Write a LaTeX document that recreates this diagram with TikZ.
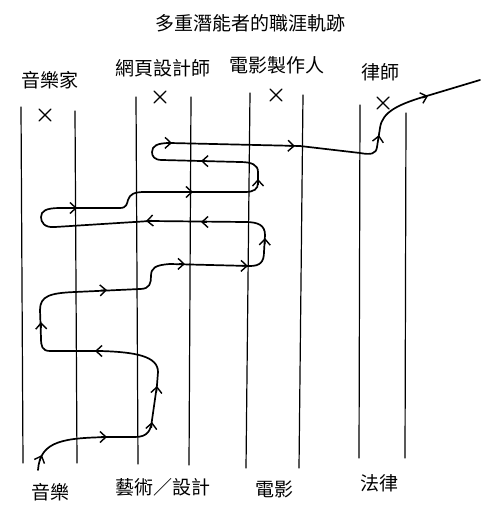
\documentclass[tikz,border=0pt]{standalone}
\usepackage{fontspec}
\newfontfamily\cjk{Noto Sans CJK TC}
\usetikzlibrary{arrows.meta}
\begin{document}
\begin{tikzpicture}[x=1pt,y=-1pt,
  vline/.style={line width=1.2pt,line cap=round},
  trail/.style={line width=1.7pt,line cap=round,line join=round},
  tipmark/.style={line width=1.4pt,-{Straight Barb[length=6pt,width=11pt]}},
  cross/.style={line width=1.4pt,line cap=round},
  lbl/.style={font=\cjk\fontsize{19}{19}\selectfont,inner sep=0pt}]
\useasboundingbox (0,0) rectangle (498,516);
% title and labels
\node[lbl] (title) at (250,23) {多重潛能者的職涯軌跡};
\node[lbl] (tmus) at (50,80) {音樂家};
\node[lbl] (tweb) at (163,68) {網頁設計師};
\node[lbl] (tfilm) at (277,65) {電影製作人};
\node[lbl] (tlaw) at (380,72) {律師};
\node[lbl] (bmus) at (50,492) {音樂};
\node[lbl] (bart) at (163,487) {藝術／設計};
\node[lbl] (bfilm) at (274,489) {電影};
\node[lbl] (blaw) at (379,483) {法律};
% vertical lines
\draw[vline] (21,107) -- (23,463);
\draw[vline] (75,111) -- (77,463);
\draw[vline] (136,97) -- (138,464);
\draw[vline] (191,97) -- (189,465);
\draw[vline] (250,93) -- (246,468);
\draw[vline] (303,95) -- (299,468);
\draw[vline] (360,105) -- (359,458);
\draw[vline] (406,113) -- (405,458);
% crosses
\foreach \cx/\cy in {45/115,160/97,276/95,383/103}
  \draw[cross] (\cx-6,\cy-6) -- (\cx+6,\cy+6) (\cx-6,\cy+6) -- (\cx+6,\cy-6);
% trail
\draw[trail] (38,470) .. controls (40,440) and (65,438) .. (110,437)
  -- (135,437) .. controls (148,437) and (151,430) .. (152,420)
  -- (157,385) -- (158,372)
  .. controls (158,356) and (135,352) .. (100,351) -- (50,351)
  .. controls (42,351) and (41,346) .. (41,338) -- (40,310)
  .. controls (40,296) and (50,293) .. (75,292) -- (140,289)
  .. controls (150,289) and (151,283) .. (151,276)
  .. controls (151,268) and (155,265) .. (170,264) -- (250,266)
  .. controls (260,266) and (264,262) .. (264,252) -- (265,235)
  .. controls (265,225) and (258,222) .. (245,222) -- (150,221) -- (55,227)
  .. controls (44,228) and (41,222) .. (41,217)
  .. controls (41,211) and (46,208) .. (60,208) -- (120,208)
  .. controls (127,208) and (127,203) .. (128,200)
  .. controls (130,194) and (134,192) .. (145,192) -- (245,192)
  .. controls (254,192) and (258,189) .. (258,183) -- (258,172)
  .. controls (258,165) and (252,162) .. (240,162) -- (162,160)
  .. controls (154,160) and (152,156) .. (152,152)
  .. controls (152,146) and (157,143) .. (170,143) -- (300,146) -- (360,153)
  .. controls (371,155) and (376,154) .. (377,147) -- (380,128)
  .. controls (382,112) and (398,104) .. (430,95) -- (480,80);
% arrowheads along the trail
\foreach \px/\py/\ang in {42/455/-68, 107/437/0, 152/422/-84, 157/386/-85,
  95/351/180, 41/322/-92, 107/290/-3, 185/264/1, 248/266/1, 265/238/-88,
  201/222/180, 146/221/176, 77/208/0, 193/192/0, 258/179/-90, 201/161/181,
  172/143/1, 295/146/2, 379/135/-81, 428/96/-17}
  \draw[tipmark] (\px,\py) ++(\ang+180:6) -- (\px,\py);
\end{tikzpicture}
\end{document}
